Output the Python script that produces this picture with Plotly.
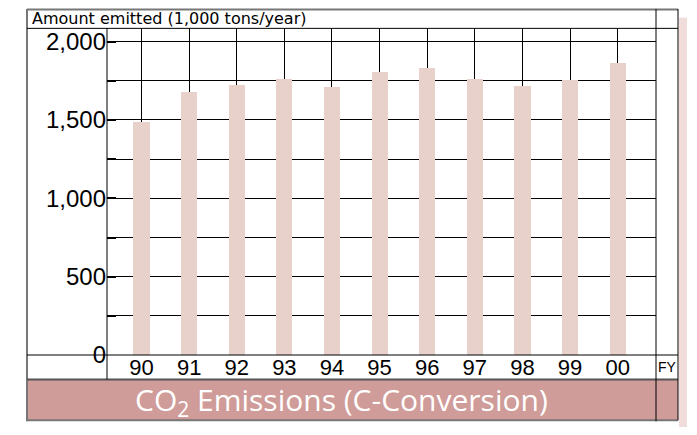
import plotly.graph_objects as go

# ---- data ----
years = ["90", "91", "92", "93", "94", "95", "96", "97", "98", "99", "00"]
emissions = [1486, 1676, 1721, 1757, 1711, 1802, 1827, 1761, 1717, 1750, 1860]
y_major = [0, 500, 1000, 1500, 2000]
y_major_text = ["0", "500", "1,000", "1,500", "2,000"]
y_minor = [250, 750, 1250, 1750]

W, H = 697, 435
OFF = 8  # page body margin
BAR = "#e8d0cb"
BAND = "#cf9c99"


def px(x):
    return (x - OFF) / W


def py(y):
    return 1 - (y - OFF) / H


fig = go.Figure()
fig.add_trace(go.Bar(
    x=list(range(len(years))),
    y=emissions,
    width=0.34,
    marker=dict(color=BAR, line=dict(width=0)),
    showlegend=False,
    hoverinfo="skip",
))

shapes = []


def line(x0, y0, x1, y1, color="black", width=1):
    shapes.append(dict(type="line", xref="paper", yref="paper",
                       x0=px(x0), y0=py(y0), x1=px(x1), y1=py(y1),
                       line=dict(color=color, width=width), layer="above"))


# title band + side strip
shapes.append(dict(type="rect", xref="paper", yref="paper",
                   x0=px(27), y0=py(433), x1=px(678), y1=py(391),
                   fillcolor=BAND, line=dict(width=0), layer="below"))
shapes.append(dict(type="rect", xref="paper", yref="paper",
                   x0=px(679), y0=py(440), x1=px(687), y1=py(18),
                   fillcolor="#f0dcda", line=dict(width=0), layer="below"))

# frame
line(27, 9.5, 678, 9.5, "#777", 2)
line(27, 9, 27, 434, "#777", 2)
line(27, 433, 678, 433, "#777", 2)
line(27, 29, 678, 29)
line(27, 365.7, 678, 365.7)
line(27, 391, 678, 391, "#555", 2)
line(656, 9, 656, 434)
line(678, 9, 678, 433)
line(107, 29, 107, 391)

fig.update_layout(
    width=W, height=H,
    margin=dict(l=0, r=0, t=0, b=0),
    paper_bgcolor="white", plot_bgcolor="white",
    bargap=0,
    shapes=shapes,
    xaxis=dict(
        domain=[px(107), px(656)],
        range=[-0.725, 10.805],
        tickmode="array", tickvals=list(range(len(years))), ticktext=years,
        showgrid=True, gridcolor="black", gridwidth=1,
        ticks="", showline=False, zeroline=False,
        ticklabelstandoff=-3,
        tickfont=dict(family="Liberation Sans", size=22, color="black"),
        fixedrange=True,
    ),
    yaxis=dict(
        domain=[py(365.7), py(29)],
        range=[0, 2084.8],
        tickmode="array", tickvals=y_major, ticktext=y_major_text,
        showgrid=True, gridcolor="black", gridwidth=1,
        ticks="inside", ticklen=9, tickwidth=2, tickcolor="black",
        minor=dict(tickvals=y_minor, ticks="inside", ticklen=9, tickwidth=2,
                   tickcolor="black", showgrid=True, gridcolor="black", gridwidth=1),
        showline=False, zeroline=False,
        tickfont=dict(family="Liberation Sans", size=24, color="black"),
        fixedrange=True,
    ),
    annotations=[
        dict(text="Amount emitted (1,000 tons/year)", xref="paper", yref="paper",
             x=px(30), y=py(19), xanchor="left", yanchor="middle", showarrow=False,
             font=dict(family="DejaVu Sans", size=16, color="black")),
        dict(text="FY", xref="paper", yref="paper",
             x=px(667), y=py(378), xanchor="center", yanchor="middle", showarrow=False,
             font=dict(family="Liberation Sans", size=14, color="black")),
        dict(text="CO<sub>2</sub> Emissions (C-Conversion)", xref="paper", yref="paper",
             x=px(341), y=py(413), xanchor="center", yanchor="middle", showarrow=False,
             font=dict(family="Open Sans", size=30, color="white")),
    ],
)

fig.write_html("out.html")
